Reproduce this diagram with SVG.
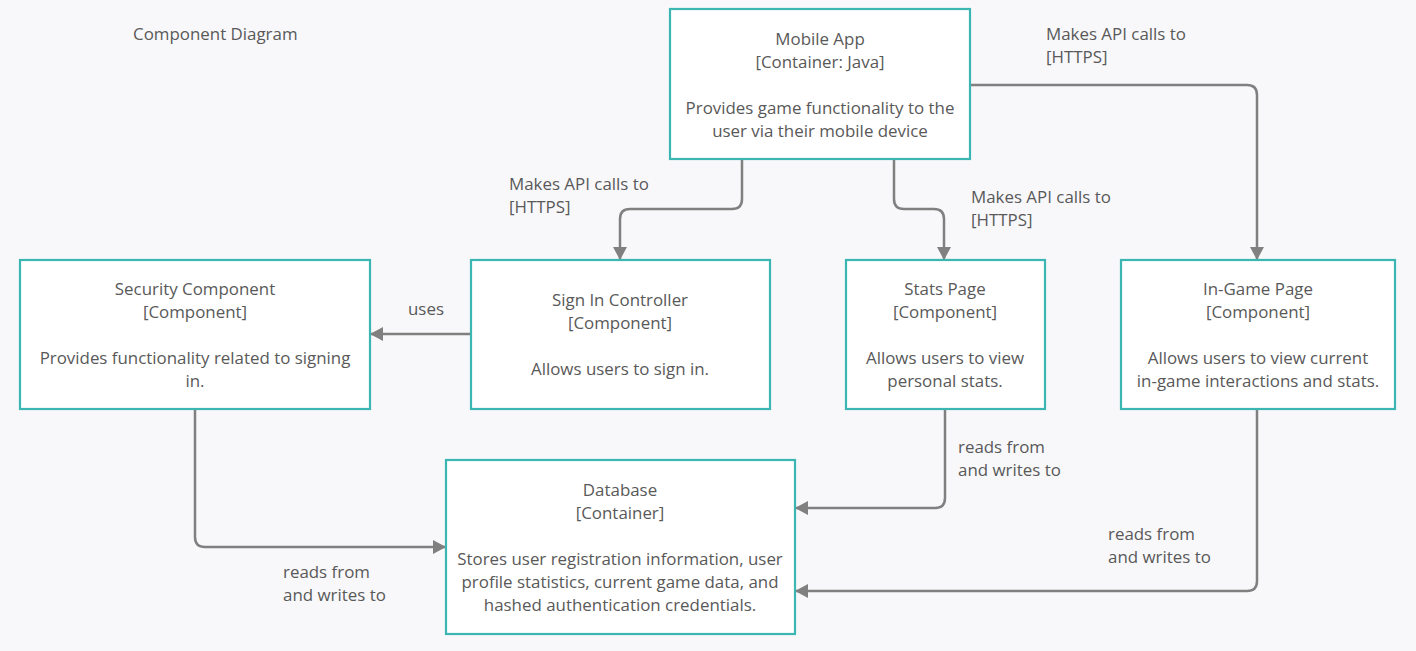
<svg xmlns="http://www.w3.org/2000/svg" width="1416" height="651" viewBox="0 0 1416 651">
<style>
.bg{fill:#f8f8fa}
.box{fill:#ffffff;stroke:#3cb6b3;stroke-width:2.2}
text{font-family:"Open Sans","Liberation Sans",sans-serif;font-size:16.9px;fill:#595959}
.c{text-anchor:middle}
.edge{fill:none;stroke:#808080;stroke-width:2.5}
</style>
<defs>
<marker id="ah" markerUnits="userSpaceOnUse" markerWidth="14" markerHeight="14" refX="13" refY="7" orient="auto">
<path d="M0,0 L13,7 L0,14 z" fill="#808080"/>
</marker>
</defs>
<rect class="bg" x="0" y="0" width="1416" height="651"/>
<text x="133" y="40">Component Diagram</text>

<g id="connectors">
<path class="edge" marker-end="url(#ah)" d="M742,159 V199 Q742,209 732,209 H630 Q620,209 620,219 V260"/>
<path class="edge" marker-end="url(#ah)" d="M894,159 V199 Q894,209 904,209 H934 Q944,209 944,219 V260"/>
<path class="edge" marker-end="url(#ah)" d="M970,85 H1247 Q1257,85 1257,95 V260"/>
<path class="edge" marker-end="url(#ah)" d="M470,334 H370"/>
<path class="edge" marker-end="url(#ah)" d="M195,409 V537 Q195,547 205,547 H446"/>
<path class="edge" marker-end="url(#ah)" d="M945,409 V498 Q945,508 935,508 H795"/>
<path class="edge" marker-end="url(#ah)" d="M1257,409 V581 Q1257,591 1247,591 H795"/>
<text x="1046" y="40">Makes API calls to</text>
<text x="1046" y="63">[HTTPS]</text>
<text x="509" y="190">Makes API calls to</text>
<text x="509" y="213">[HTTPS]</text>
<text x="971" y="203">Makes API calls to</text>
<text x="971" y="226">[HTTPS]</text>
<text x="408" y="315">uses</text>
<text x="958" y="453">reads from</text>
<text x="958" y="476">and writes to</text>
<text x="1108" y="540">reads from</text>
<text x="1108" y="563">and writes to</text>
<text x="283" y="578">reads from</text>
<text x="283" y="601">and writes to</text>
</g>

<g id="mobile-app">
<rect class="box" x="670" y="9" width="300" height="150"/>
<text class="c" x="820" y="45">Mobile App</text>
<text class="c" x="820" y="68">[Container: Java]</text>
<text class="c" x="820" y="114">Provides game functionality to the</text>
<text class="c" x="820" y="137">user via their mobile device</text>
</g>

<g id="security-component">
<rect class="box" x="20" y="260" width="350" height="149"/>
<text class="c" x="195" y="295">Security Component</text>
<text class="c" x="195" y="318">[Component]</text>
<text class="c" x="195" y="364">Provides functionality related to signing</text>
<text class="c" x="195" y="387">in.</text>
</g>

<g id="sign-in-controller">
<rect class="box" x="471" y="260" width="299" height="149"/>
<text class="c" x="620" y="306">Sign In Controller</text>
<text class="c" x="620" y="329">[Component]</text>
<text class="c" x="620" y="375">Allows users to sign in.</text>
</g>

<g id="stats-page">
<rect class="box" x="846" y="260" width="199" height="149"/>
<text class="c" x="945" y="295">Stats Page</text>
<text class="c" x="945" y="318">[Component]</text>
<text class="c" x="945" y="364">Allows users to view</text>
<text class="c" x="945" y="387">personal stats.</text>
</g>

<g id="in-game-page">
<rect class="box" x="1121" y="260" width="274" height="149"/>
<text class="c" x="1258" y="295">In-Game Page</text>
<text class="c" x="1258" y="318">[Component]</text>
<text class="c" x="1258" y="364">Allows users to view current</text>
<text class="c" x="1258" y="387">in-game interactions and stats.</text>
</g>

<g id="database">
<rect class="box" x="446" y="460" width="349" height="174"/>
<text class="c" x="620" y="496">Database</text>
<text class="c" x="620" y="519">[Container]</text>
<text class="c" x="620" y="565">Stores user registration information, user</text>
<text class="c" x="620" y="588">profile statistics, current game data, and</text>
<text class="c" x="620" y="611">hashed authentication credentials.</text>
</g>
</svg>
